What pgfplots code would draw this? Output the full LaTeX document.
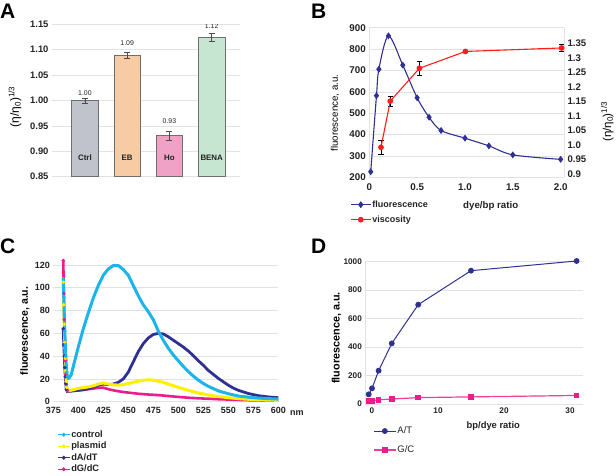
\documentclass[border=0pt]{standalone}
\usepackage{fontspec}
\setmainfont{Liberation Sans}
\usepackage{pgfplots}
\pgfplotsset{compat=1.18}
\definecolor{navy}{HTML}{2E3192}
\definecolor{vred}{HTML}{FF1E1E}
\definecolor{ccyan}{HTML}{1CB4EA}
\definecolor{cyel}{HTML}{FFF000}
\definecolor{cmag}{HTML}{EC1C8C}
\definecolor{gridc}{HTML}{E2E2E2}
\definecolor{barA}{HTML}{C0C3CB}
\definecolor{barB}{HTML}{F7CBA3}
\definecolor{barC}{HTML}{EFA2C5}
\definecolor{barD}{HTML}{C7E6D2}
\definecolor{edge}{HTML}{6E6E6E}
\definecolor{txt}{HTML}{222222}
\newcommand{\fs}[1]{\fontsize{#1}{#1}\selectfont}
\begin{document}
\begin{tikzpicture}
\useasboundingbox (0pt,0pt) rectangle (616pt,-475pt);
% panel letters
\node[anchor=base west,inner sep=0pt,font=\bfseries\fs{21}] at (0pt,-18.3pt) {A};
\node[anchor=base west,inner sep=0pt,font=\bfseries\fs{21}] at (311pt,-18.3pt) {B};
\node[anchor=base west,inner sep=0pt,font=\bfseries\fs{21}] at (0pt,-253.5pt) {C};
\node[anchor=base west,inner sep=0pt,font=\bfseries\fs{21}] at (311pt,-253.5pt) {D};

% ---------------- Panel A ----------------
\begin{axis}[
  at={(52pt,-176.7pt)}, anchor=south west,
  scale only axis, width=188pt, height=152.7pt,
  xmin=-0.78, xmax=3.67, ymin=0.85, ymax=1.15,
  xtick=\empty,
  ytick={0.85,0.90,0.95,1.00,1.05,1.10,1.15},
  yticklabels={0.85,0.90,0.95,1.00,1.05,1.10,1.15},
  yticklabel style={font=\bfseries\fs{9.4}, text=txt},
  axis line style={draw=none},
  major tick length=0pt,
  ymajorgrids, grid style={gridc, line width=0.6pt},
  ylabel={(η/η\textsubscript{0})\textsuperscript{1/3}},
  ylabel style={font=\fs{12}, at={(axis description cs:-0.197,0.457)}, anchor=center},
]
\pgfplotsset{abar/.style={ybar, bar width=26.5pt, draw=edge, line width=0.8pt,
  error bars/.cd, y dir=both, y explicit,
  error bar style={line width=0.6pt, black!70},
  error mark options={rotate=90, mark size=3pt, line width=0.6pt, black!70}}}
\addplot[fill=barA, abar] coordinates {(0,1.000) +- (0,0.005)};
\addplot[fill=barB, abar] coordinates {(1,1.089) +- (0,0.006)};
\addplot[fill=barC, abar] coordinates {(2,0.931) +- (0,0.009)};
\addplot[fill=barD, abar] coordinates {(3,1.124) +- (0,0.008)};
\node[font=\fs{6.9}, text=txt] at (axis cs:0,1.0138) {1.00};
\node[font=\fs{6.9}, text=txt] at (axis cs:1,1.112) {1.09};
\node[font=\fs{6.9}, text=txt] at (axis cs:2,0.960) {0.93};
\node[font=\fs{6.9}, text=txt] at (axis cs:3,1.146) {1.12};
\node[font=\bfseries\fs{7.9}, text=txt] at (axis cs:0,0.887) {Ctrl};
\node[font=\bfseries\fs{7.9}, text=txt] at (axis cs:1,0.887) {EB};
\node[font=\bfseries\fs{7.9}, text=txt] at (axis cs:2,0.887) {Ho};
\node[font=\bfseries\fs{7.9}, text=txt] at (axis cs:3,0.887) {BENA};
\end{axis}

% ---------------- Panel B (left axis) ----------------
\begin{axis}[
  at={(369.3pt,-177.3pt)}, anchor=south west,
  scale only axis, width=194.7pt, height=149.6pt,
  xmin=0, xmax=2.035, ymin=200, ymax=900,
  axis y line*=left, axis x line*=bottom,
  axis line style={gridc, line width=0.6pt},
  xtick={0,0.5,1,1.5,2}, xticklabels={0,0.5,1.0,1.5,2.0},
  ytick={200,300,400,500,600,700,800,900},
  yticklabels={200,300,400,500,600,700,800,900},
  tick label style={font=\bfseries\fs{9.8}, text=txt},
  xticklabel style={yshift=-3pt},
  major tick length=0pt,
  ymajorgrids, grid style={gridc, line width=0.6pt},
  ylabel={fluorescence, a.u.},
  ylabel style={font=\fs{9.7}, at={(axis description cs:-0.176,0.43)}, anchor=center},
  clip=false,
]
\addplot[navy, line width=1.1pt, smooth, tension=0.5, mark=diamond*, mark size=2.6pt, mark options={fill=navy}]
 coordinates {(0.015,226)(0.075,582)(0.1,706)(0.2,862)(0.35,725)(0.5,572)(0.625,481)(0.75,419)(1.0,383)(1.25,347)(1.5,305)(2.0,284)};
\end{axis}

% ---------------- Panel B (right axis) ----------------
\begin{axis}[
  at={(369.3pt,-177.3pt)}, anchor=south west,
  scale only axis, width=194.7pt, height=149.6pt,
  xmin=0, xmax=2.035, ymin=0.8886, ymax=1.4037,
  axis y line*=right, axis x line=none,
  axis line style={gridc, line width=0.6pt},
  ytick={0.9,0.95,1.0,1.05,1.1,1.15,1.2,1.25,1.3,1.35},
  yticklabels={0.9,0.95,1.0,1.05,1.1,1.15,1.2,1.25,1.3,1.35},
  tick label style={font=\bfseries\fs{9.6}, text=txt},
  major tick length=0pt,
  ylabel={(η/η\textsubscript{0})\textsuperscript{1/3}},
  ylabel style={font=\fs{11.5}, at={(axis description cs:1.222,0.372)}, anchor=center},
  clip=false,
  legend image code/.code={\draw[mark repeat=2,mark phase=2] plot coordinates {(0pt,0pt)(10pt,0pt)(20pt,0pt)};},
  legend style={at={(axis description cs:-0.099,-0.145)}, anchor=north west, draw=none, fill=none,
     font=\bfseries\fs{9}, text=txt, row sep=4pt, inner sep=0pt,
     nodes={inner sep=1pt, text height=7pt, text depth=2pt}},
  legend cell align=left,
]
\addlegendimage{navy, line width=1.1pt, mark=diamond*, mark size=2.6pt, mark options={fill=navy}}
\addlegendentry{fluorescence}
\addplot[draw=none, forget plot, error bars/.cd, y dir=both, y explicit,
  error bar style={draw=black, line width=0.8pt},
  error mark options={rotate=90, mark size=2.6pt, draw=black, line width=0.8pt}]
 coordinates {(0.122,0.992) +- (0,0.025) (0.219,1.151) +- (0,0.017) (0.524,1.264) +- (0,0.024) (2.01,1.334) +- (0,0.012)};
\addplot[vred, line width=1.1pt, mark=*, mark size=2.3pt, mark options={fill=vred}]
 coordinates {(0.122,0.992)(0.219,1.151)(0.524,1.264)(1.005,1.322)(2.01,1.334)};
\addlegendentry{viscosity}
\end{axis}
\node[font=\bfseries\fs{9.7}, text=txt] at (490.7pt,-206pt) {dye/bp ratio};

% ---------------- Panel C ----------------
\begin{axis}[
  at={(53.3pt,-401.7pt)}, anchor=south west,
  scale only axis, width=225pt, height=136.7pt,
  xmin=375, xmax=600, ymin=0, ymax=120,
  xtick={375,400,425,450,475,500,525,550,575,600},
  xticklabels={375,400,425,450,475,500,525,550,575,600},
  ytick={0,20,40,60,80,100,120},
  yticklabels={0,20,40,60,80,100,120},
  tick label style={font=\bfseries\fs{9}, text=txt},
  xticklabel style={yshift=-2pt},
  axis line style={draw=none}, major tick length=0pt,
  ymajorgrids, grid style={gridc, line width=0.6pt},
  ylabel={fluorescence, a.u.},
  ylabel style={font=\bfseries\fs{10.5}, at={(axis description cs:-0.126,0.517)}, anchor=center},
  clip=false,
  legend image code/.code={\draw[mark repeat=2,mark phase=2] plot coordinates {(0pt,0pt)(6pt,0pt)(12pt,0pt)};},
  legend style={at={(axis description cs:0.016,-0.2)}, anchor=north west, draw=none, fill=none,
     font=\bfseries\fs{9.3}, text=txt, row sep=0.5pt, inner sep=0pt,
     nodes={inner sep=1pt, text height=7pt, text depth=2pt}},
  legend cell align=left,
]
\addlegendimage{ccyan, line width=1.2pt, mark=*, mark size=1.3pt}
\addlegendentry{control}
\addlegendimage{cyel, line width=1.2pt, mark=*, mark size=1.3pt}
\addlegendentry{plasmid}
\addlegendimage{navy, line width=1.2pt, mark=*, mark size=1.3pt}
\addlegendentry{dA/dT}
\addlegendimage{cmag, line width=1.2pt, mark=*, mark size=1.3pt}
\addlegendentry{dG/dC}
% dG/dC
\addplot[cmag, line width=2.6pt, forget plot, mark=*, mark size=1.5pt, mark indices={1,...,9}, mark options={line width=0.5pt}]
 coordinates {(385,124)(385.5,95)(386,72)(386.5,52)(387,36)(387.5,24)(388,15)(388.5,11)(389,9.6)(390,9.4)(395,9.6)(400,10)(405,10.4)(410,11)(415,11.5)(420,12.2)(425,12.3)(430,11)(435,10)(440,9.2)(445,8.5)(450,8)(460,7)(470,6.3)(480,5.8)(490,5)(500,4.2)(510,3.5)(520,3)(530,2.6)(540,2.2)(550,1.9)(560,1.6)(575,1.2)(590,1)(600,0.9)};
% dA/dT
\addplot[navy, line width=2.8pt, forget plot, mark=*, mark size=1.5pt, mark indices={1,...,7}, mark options={line width=0.5pt}]
 coordinates {(385,64)(385.5,50)(386,40)(386.5,30)(387,22)(387.5,16)(388,11)(389,9)(390,9)(395,9.5)(400,10)(405,10.5)(410,11.5)(415,13)(420,14.5)(425,15.5)(430,15)(435,15.5)(440,17)(445,20)(450,26)(455,35)(460,44)(465,51)(470,56)(475,59)(480,60)(485,59.5)(490,57)(495,54)(500,51)(505,48)(510,44.5)(515,40.5)(520,36)(525,32)(530,27.5)(535,24)(540,20.5)(545,17.5)(550,14.5)(555,12)(560,10)(570,7.2)(580,5.3)(590,4.2)(600,3.5)};
% plasmid
\addplot[cyel, line width=3pt, forget plot, mark=*, mark size=1.5pt, mark indices={1,...,8}, mark options={line width=0.5pt}]
 coordinates {(385,105)(385.5,85)(386,68)(386.5,52)(387,38)(387.5,27)(388,18)(388.5,12.5)(389,10.5)(390,9.5)(395,10.5)(400,11.7)(405,12.3)(410,13)(415,14)(420,15.5)(425,16.5)(430,15.5)(435,14.8)(440,14.6)(445,15)(450,16)(455,17)(460,18)(465,18.8)(470,19.2)(475,19)(480,18)(485,17)(490,15.5)(495,14)(500,12.7)(505,11.3)(510,10)(515,8.8)(520,7.7)(530,6)(540,4.6)(550,3.5)(560,2.7)(570,2.1)(580,1.7)(590,1.4)(600,1.2)};
% control
\addplot[ccyan, line width=3pt, forget plot, mark=*, mark size=1.5pt, mark indices={1,...,9}, mark options={line width=0.5pt}]
 coordinates {(385,108)(385.5,92)(386,76)(386.5,62)(387,50)(387.5,40)(388,32)(388.5,26)(389,22.5)(390,20.5)(391,20.8)(393,24)(395,31)(400,48)(405,64)(410,78)(415,91)(420,102)(425,111)(430,116.5)(435,119.5)(440,119.5)(445,116)(450,111)(455,102)(460,93)(465,85)(470,79)(475,72)(480,62)(485,54)(490,47)(495,41)(500,36)(505,31)(510,26.5)(515,22.5)(520,19)(525,16)(530,13.5)(540,9.5)(550,7)(560,5)(570,4)(580,3.2)(590,2.7)(600,2.3)};
\end{axis}
\node[anchor=west, font=\bfseries\fs{9}, text=txt, inner sep=0pt] at (290pt,-412.7pt) {nm};

% ---------------- Panel D ----------------
\begin{axis}[
  at={(365.4pt,-404pt)}, anchor=south west,
  scale only axis, width=217.8pt, height=142.3pt,
  xmin=-1, xmax=32, ymin=0, ymax=1000,
  xtick={0,10,20,30}, xticklabels={0,10,20,30},
  ytick={0,200,400,600,800,1000}, yticklabels={0,200,400,600,800,1000},
  tick label style={font=\bfseries\fs{8.2}, text=txt},
  axis y line*=left, axis x line*=bottom,
  axis line style={gridc, line width=0.6pt},
  major tick length=0pt,
  ymajorgrids, grid style={gridc, line width=0.6pt},
  ylabel={fluorescence, a.u.},
  ylabel style={font=\bfseries\fs{10.8}, at={(axis description cs:-0.132,0.464)}, anchor=center},
  clip=false,
  legend image code/.code={\draw[mark repeat=2,mark phase=2] plot coordinates {(0pt,0pt)(11pt,0pt)(22pt,0pt)};},
  legend style={at={(axis description cs:0.035,-0.15)}, anchor=north west, draw=none, fill=none,
     font=\fs{9.5}, text=txt, row sep=8pt, inner sep=0pt,
     nodes={inner sep=1pt, text height=7pt, text depth=2pt}},
  legend cell align=left,
]
\addplot[navy, line width=1pt, mark=*, mark size=2.4pt, mark options={fill=navy}]
 coordinates {(-0.5,68)(0,110)(1,234)(3,426)(7,698)(15,937)(31,1005)};
\addlegendentry{A/T}
\addplot[cmag!85, line width=1.2pt, mark=square*, mark size=2.2pt, mark options={fill=cmag, draw=cmag}]
 coordinates {(-0.5,22)(0,22)(1,30)(3,35)(7,45)(15,50)(31,60)};
\addlegendentry{G/C}
\end{axis}
\node[font=\bfseries\fs{9.4}, text=txt] at (493.3pt,-426pt) {bp/dye ratio};
\end{tikzpicture}
\end{document}
